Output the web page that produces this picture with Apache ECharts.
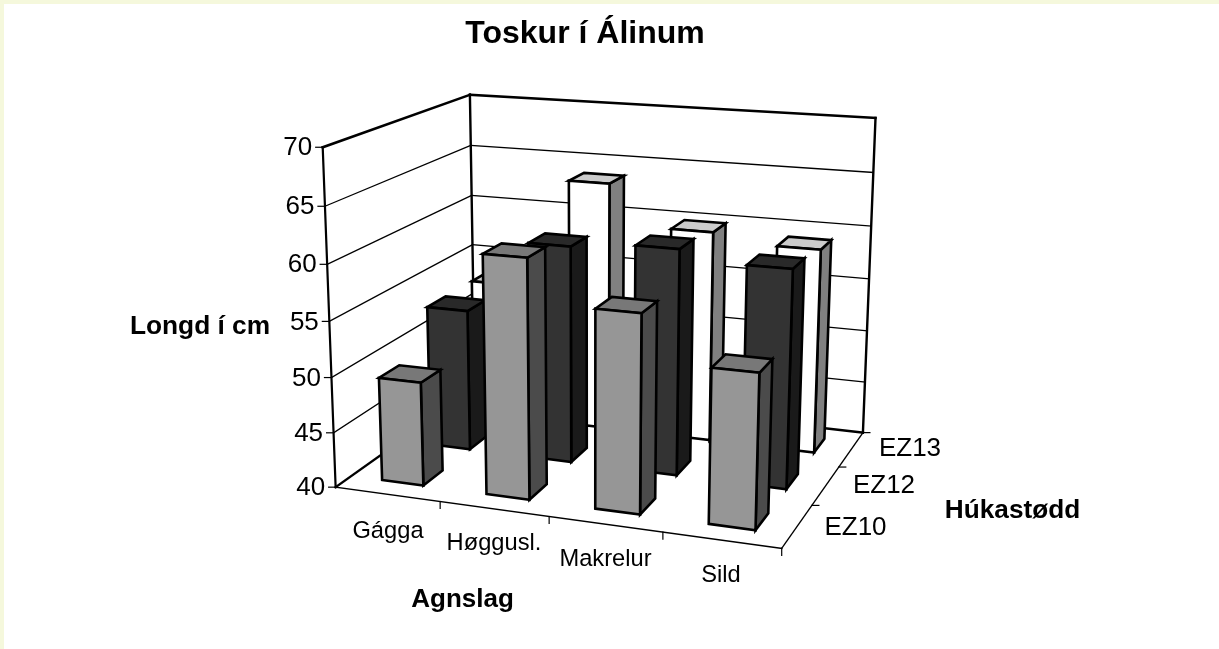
<!DOCTYPE html>
<html><head><meta charset="utf-8">
<style>html,body{margin:0;padding:0;background:#fff}#c{width:1219px;height:649px}</style>
<script src="https://cdn.jsdelivr.net/npm/echarts@6/dist/echarts.min.js"></script>
</head><body><div id="c"></div>
<script>
const title = 'Toskur í Álinum';
const categories = ['Gágga', 'Høggusl.', 'Makrelur', 'Sild'];
const rows = ['EZ10', 'EZ12', 'EZ13'];
const ez10 = [49.4, 61.3, 57.5, 53.5];
const ez12 = [53.2, 60, 60.6, 59.7];
const ez13 = [53.2, 63.7, 59.9, 59.1];
const yTicks = [40, 45, 50, 55, 60, 65, 70];
const yTitle = 'Longd í cm', xTitle = 'Agnslag', zTitle = 'Húkastødd';
const catLabelPos = [[388,531.5],[494,543.5],[605.5,559.5],[721,575.5]];
const rowLabelPos = [[855.5,528],[884,486],[910,449]];

// Camera fitted to the visible corners of the plot box: [x, y, z] in 0..1 -> screen
const corners = [
  [0,0,0, 336.5,487.5],[1,0,0, 781.5,548.3],[1,0,1, 863.3,432.7],[0,0,1, 474,388],
  [0,1,0, 322,147],[0,1,1, 470.7,95],[1,1,1, 875.3,118]
];
function fitCamera(pts){
  const n=11, A=Array.from({length:n},()=>new Array(n+1).fill(0));
  const add=(r,b)=>{for(let i=0;i<n;i++){for(let j=0;j<n;j++)A[i][j]+=r[i]*r[j];A[i][n]+=r[i]*b;}};
  pts.forEach(([X,Y,Z,u,v])=>{
    add([X,Y,Z,1,0,0,0,0,-u*X,-u*Y,-u*Z],u);
    add([0,0,0,0,X,Y,Z,1,-v*X,-v*Y,-v*Z],v);
  });
  for(let i=0;i<n;i++){
    let p=i;for(let k=i+1;k<n;k++)if(Math.abs(A[k][i])>Math.abs(A[p][i]))p=k;
    [A[i],A[p]]=[A[p],A[i]];
    for(let k=0;k<n;k++){if(k===i)continue;const f=A[k][i]/A[i][i];for(let j=i;j<=n;j++)A[k][j]-=f*A[i][j];}
  }
  return A.map((r,i)=>r[n]/r[i]);
}
const h = fitCamera(corners);
function P(x,y,z){
  const w=h[8]*x+h[9]*y+h[10]*z+1;
  return [(h[0]*x+h[1]*y+h[2]*z+h[3])/w,(h[4]*x+h[5]*y+h[6]*z+h[7])/w];
}
const BLACK='#000';
const line=(a,b,w)=>({type:'line',shape:{x1:a[0],y1:a[1],x2:b[0],y2:b[1]},style:{stroke:BLACK,lineWidth:w,lineCap:'square'}});
const poly=(pts,fill)=>({type:'polygon',shape:{points:pts},style:{fill,stroke:BLACK,lineWidth:2.6,lineJoin:'miter'}});
const txt=(s,x,y,size,weight,align)=>({type:'text',x,y,style:{text:s,fontFamily:'Liberation Sans',fontSize:size,fontWeight:weight||'normal',fill:BLACK,align:align||'center',verticalAlign:'middle'}});

function yNorm(api,val,cs){ return (cs.y+cs.height-api.coord([0,val])[1])/cs.height; }

function renderFrame(params,api){
  const cs=params.coordSys, ch=[];
  yTicks.forEach(t=>{
    const y=yNorm(api,t,cs);
    if(t>40&&t<70){ ch.push(line(P(0,y,0),P(0,y,1),1.3)); ch.push(line(P(0,y,1),P(1,y,1),1.3)); }
    const a=P(0,y,0);
    ch.push(line(a,[a[0]-7,a[1]],1.2));
    ch.push(txt(String(t),a[0]-10.5,a[1]+1,26,'normal','right'));
  });
  ch.push(line(P(0,1,0),P(0,1,1),2.6),line(P(0,1,1),P(1,1,1),2.4),line(P(0,0,1),P(0,1,1),2.4),
    line(P(1,0,1),P(1,1,1),2.4),line(P(0,0,0),P(0,1,0),2.2),
    line(P(0,0,0),P(0,0,1),2.4),line(P(0,0,1),P(1,0,1),2.4),
    line(P(0,0,0),P(1,0,0),1.4),line(P(1,0,0),P(1,0,1),1.4));
  for(let i=1;i<=categories.length;i++){const a=P(i/categories.length,0,0);ch.push(line(a,[a[0],a[1]+7],1.2));}
  for(let i=1;i<=rows.length;i++){const a=P(1,0,i/rows.length);ch.push(line(a,[a[0]+7,a[1]],1.2));}
  categories.forEach((c,i)=>ch.push(txt(c,catLabelPos[i][0],catLabelPos[i][1],23.7)));
  rows.forEach((c,i)=>ch.push(txt(c,rowLabelPos[i][0],rowLabelPos[i][1],26)));
  ch.push(txt(title,585,34.5,32,'bold'),txt(yTitle,200,326.5,26.3,'bold'),txt(xTitle,462.5,600,26,'bold'),txt(zTitle,1012.5,510.5,26.2,'bold'));
  return {type:'group',children:ch};
}
function barRender(rowIdx,front,side,top){
  return function(params,api){
    const cs=params.coordSys;
    const cat=api.value(0), val=api.value(1);
    const cx=(api.coord([cat,40])[0]-cs.x)/cs.width;
    const w=api.size([1,0])[0]/cs.width*0.2;
    const x0=cx-w,x1=cx+w;
    const y=yNorm(api,val,cs);
    const z0=(rowIdx+0.3)/rows.length,z1=(rowIdx+0.7)/rows.length;
    return {type:'group',children:[
      poly([P(x1,0,z0),P(x1,0,z1),P(x1,y,z1),P(x1,y,z0)],side),
      poly([P(x0,y,z0),P(x1,y,z0),P(x1,y,z1),P(x0,y,z1)],top),
      poly([P(x0,0,z0),P(x1,0,z0),P(x1,y,z0),P(x0,y,z0)],front)
    ]};
  };
}
const toData=a=>a.map((v,i)=>[i,v]);
const chart=echarts.init(document.getElementById('c'),null,{renderer:'canvas'});
chart.setOption({
  animation:false,backgroundColor:'#fff',
  grid:{left:100,right:100,top:100,bottom:100},
  xAxis:{type:'category',data:categories,show:false},
  yAxis:{type:'value',min:40,max:70,interval:5,show:false},
  graphic:[
    {type:'rect',shape:{x:0,y:0,width:1219,height:4},style:{fill:'#F5F8DC'},silent:true},
    {type:'rect',shape:{x:0,y:0,width:4,height:649},style:{fill:'#F5F8DC'},silent:true}
  ],
  series:[
    {type:'custom',name:'frame',data:[[0,40]],renderItem:renderFrame,silent:true,clip:false,encode:{x:0,y:1}},
    {type:'custom',name:rows[2],data:toData(ez13),renderItem:barRender(2,'#FFFFFF','#808080','#CCCCCC'),clip:false,encode:{x:0,y:1}},
    {type:'custom',name:rows[1],data:toData(ez12),renderItem:barRender(1,'#333333','#1A1A1A','#292929'),clip:false,encode:{x:0,y:1}},
    {type:'custom',name:rows[0],data:toData(ez10),renderItem:barRender(0,'#969696','#4B4B4B','#787878'),clip:false,encode:{x:0,y:1}}
  ]
});
</script></body></html>
